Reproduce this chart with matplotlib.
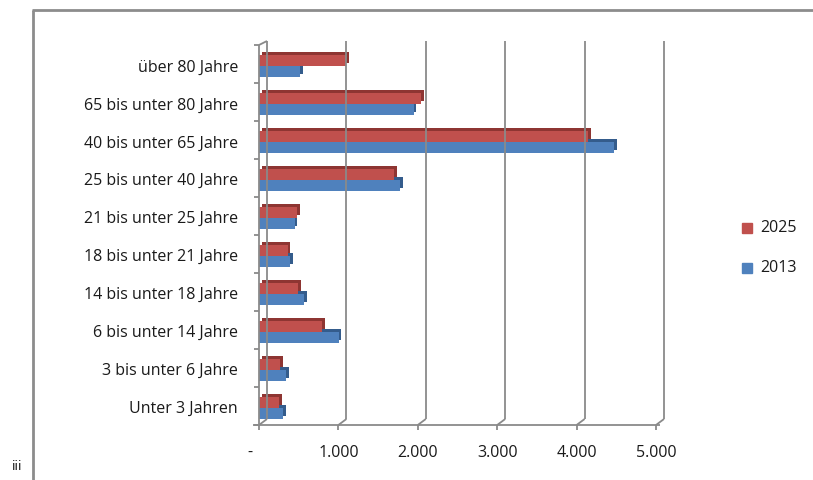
import matplotlib
matplotlib.use("Agg")
import matplotlib.pyplot as plt
import matplotlib.patheffects as pe
from matplotlib.patches import Rectangle
from matplotlib.lines import Line2D
import numpy as np

categories = ["Unter 3 Jahren", "3 bis unter 6 Jahre", "6 bis unter 14 Jahre",
              "14 bis unter 18 Jahre", "18 bis unter 21 Jahre", "21 bis unter 25 Jahre",
              "25 bis unter 40 Jahre", "40 bis unter 65 Jahre", "65 bis unter 80 Jahre",
              "über 80 Jahre"]
values_2013 = [302, 340, 1003, 566, 390, 449, 1778, 4470, 1946, 520]
values_2025 = [252, 264, 792, 490, 361, 478, 1702, 4147, 2038, 1098]
xticks = [0, 1000, 2000, 3000, 4000, 5000]
xticklabels = ["-", "1.000", "2.000", "3.000", "4.000", "5.000"]

plt.rcParams['font.family'] = ['Open Sans', 'DejaVu Sans']

W, H = 813, 480
fig = plt.figure(figsize=(W / 100, H / 100), dpi=100)
ax = fig.add_axes([259 / W, 1 - 425 / H, (656 - 259) / W, (425 - 45) / H])
ax.patch.set_alpha(0)

red, blue = "#C0504D", "#4F81BD"
red_d, blue_d = "#8E3532", "#345C8C"
gray = "#8A8A8A"
txt = "#1a1a1a"
FS = 11.5

y = np.arange(len(categories))
h = 0.29
b1 = ax.barh(y - h / 2 - 0.05, values_2013, height=h, color=blue, zorder=3)
b2 = ax.barh(y + h / 2 - 0.05, values_2025, height=h, color=red, zorder=4)
for bars, dc in ((b1, blue_d), (b2, red_d)):
    for p in bars:
        p.set_path_effects([pe.SimplePatchShadow(offset=(2.0, 2.0), shadow_rgbFace=dc, alpha=1.0),
                            pe.Normal()])

ax.set_xlim(0, 5000)
ax.set_ylim(-0.5, len(categories) - 0.5)

for s in ax.spines.values():
    s.set_visible(False)
ax.set_xticks([])
ax.set_yticks([])

fig.canvas.draw()
def px(xd, yd):
    return ax.transData.transform((xd, yd))

def fig_line(x0, y0, x1, y1, color=gray, lw=1.3, z=1):
    fig.add_artist(Line2D([x0 / W, x1 / W], [1 - y0 / H, 1 - y1 / H],
                          transform=fig.transFigure, color=color, lw=lw, zorder=z,
                          solid_capstyle="butt"))

dx, dy = 8, 6
bottom_px = 425
top_px = 45
for xv in xticks:
    xp = px(xv, 0)[0]
    fig_line(xp + dx, bottom_px - dy, xp + dx, top_px - 4)
    fig_line(xp, bottom_px, xp + dx, bottom_px - dy)
    fig_line(xp, bottom_px, xp, bottom_px + 5)
fig_line(253, bottom_px, 660, bottom_px)
x0 = px(0, 0)[0]
fig_line(x0, bottom_px, x0, top_px)
fig_line(x0, top_px, x0 + dx, top_px - 4)
for k in range(len(categories) + 1):
    yp = H - ax.transData.transform((0, k - 0.5))[1]
    fig_line(x0 - 5, yp, x0, yp)

for k, c in enumerate(categories):
    yp = H - ax.transData.transform((0, k))[1] + 3 + 0.045 * k * 10 / 9
    fig.text(238 / W, 1 - yp / H, c, ha="right", va="center", fontsize=FS, color=txt)

for xv, lab in zip(xticks, xticklabels):
    xp = px(xv, 0)[0]
    xpos = 250 if lab == "-" else xp
    fig.text(xpos / W, 1 - 453 / H, lab, ha="center", va="center", fontsize=FS, color=txt)

for yp, col, lab in ((228, red, "2025"), (268, blue, "2013")):
    fig.add_artist(Rectangle(((747 - 5) / W, 1 - (yp + 5) / H), 10 / W, 10 / H,
                             transform=fig.transFigure, color=col))
    fig.text(760 / W, 1 - yp / H, lab, ha="left", va="center", fontsize=FS, color=txt)

fig_line(33, 10, 33, 480, color="#8C8C8C", lw=2.0, z=5)
fig_line(32, 10, 813, 10, color="#8C8C8C", lw=2.0, z=5)
fig.text(12 / W, 1 - 467 / H, "iii", fontsize=9, ha="left", va="center", color=txt,
         family=["DejaVu Sans"])

fig.savefig("out.png", dpi=100)
